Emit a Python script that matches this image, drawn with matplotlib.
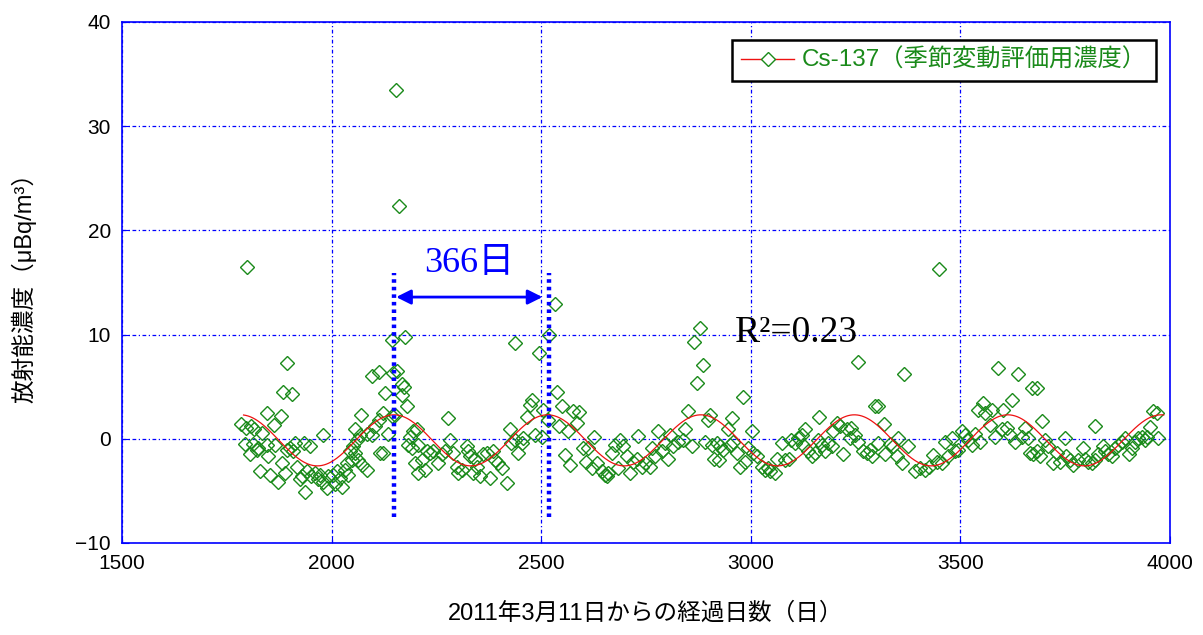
import numpy as np
import matplotlib
matplotlib.use("Agg")
import matplotlib.pyplot as plt
from matplotlib.lines import Line2D

# ---------------- data ----------------
days = [
    1798, 2154, 2161, 3449, 2533,
    # ~1780-2150
    1893, 1885, 1905, 1847, 1879, 1785, 1808, 1816, 1797, 1833, 1863, 1793, 1813, 1825, 1805,
    1821, 1845, 1865, 1849, 1829, 1853, 1871, 1881, 1889, 1893, 1901, 1913, 1909, 1933, 1949,
    1980, 1917, 1925, 1937, 1929, 1941, 1952, 1960, 1968, 1972, 1980, 1988, 1992, 2004, 2012,
    2008, 2024, 2020, 2032, 2040, 2036, 2048, 2044, 2056, 2064, 2072, 2084, 2052, 2060, 2068,
    2056, 2070, 2084, 2096, 2104, 2112, 2123, 2127, 2096, 2112, 2115, 2123, 2135, 2143, 2143,
    2147,
    # 2150-2520
    2175, 2437, 2495, 2518, 2155, 2167, 2173, 2167, 2181, 2277, 2151, 2477, 2473, 2465, 2505,
    2517, 2426, 2457, 2485, 2501, 2195, 2203, 2187, 2183, 2207, 2191, 2227, 2235, 2243, 2255,
    2263, 2270, 2282, 2290, 2298, 2302, 2310, 2322, 2326, 2330, 2342, 2346, 2338, 2354, 2362,
    2370, 2378, 2386, 2390, 2398, 2406, 2418, 2429, 2445, 2437, 2453, 2199, 2207, 2223, 2215,
    # 2530-2910
    2879, 2865, 2885, 2871, 2849, 2903, 2897, 2537, 2549, 2577, 2590, 2585, 2542, 2565, 2627,
    2557, 2569, 2600, 2612, 2608, 2620, 2632, 2644, 2652, 2656, 2660, 2668, 2676, 2688, 2696,
    2684, 2704, 2712, 2720, 2730, 2728, 2740, 2748, 2760, 2764, 2771, 2779, 2787, 2795, 2803,
    2807, 2815, 2827, 2839, 2843, 2859, 2891, 2911, 2907,
    # 2915-3290
    3255, 2982, 3296, 3163, 2954, 2946, 3002, 2919, 2927, 2934, 2923, 2950, 2958, 2966, 2974,
    2986, 2994, 3006, 3014, 3026, 3034, 3042, 3046, 3058, 3062, 3074, 3082, 3090, 3097, 3105,
    3113, 3121, 3129, 3125, 3137, 3145, 3153, 3161, 3169, 3177, 3185, 3193, 3197, 3205, 3213,
    3221, 3229, 3240, 3236, 3248, 3256, 3268, 3276, 3284, 3288,
    # 3300-3675
    3366, 3590, 3638, 3670, 3304, 3318, 3624, 3602, 3575, 3555, 3543, 3559, 3571, 3304, 3332,
    3352, 3340, 3320, 3348, 3360, 3376, 3392, 3404, 3416, 3424, 3435, 3443, 3455, 3463, 3471,
    3479, 3487, 3495, 3503, 3511, 3519, 3527, 3535, 3547, 3582, 3598, 3610, 3618, 3630, 3646,
    3654, 3662, 3666, 3674,
    # 3680-3975
    3682, 3695, 3821, 3960, 3968, 3952, 3682, 3690, 3702, 3710, 3722, 3730, 3738, 3750, 3753,
    3761, 3769, 3781, 3793, 3797, 3805, 3813, 3821, 3829, 3841, 3845, 3853, 3861, 3869, 3877,
    3885, 3893, 3901, 3909, 3917, 3924, 3932, 3940, 3944, 3972,
]
concentration = [
    16.5, 33.5, 22.3, 16.3, 12.9,
    7.3, 4.5, 4.3, 2.5, 2.2, 1.4, 1.2, 0.9, 1.0, 0.6, 1.3, -0.5, -0.5, -0.9, -1.5,
    -1.1, -0.6, -0.6, -1.7, -3.1, -3.5, -4.1, -2.3, -3.3, -1.1, -0.9, -0.4, -1.2, -0.4, -0.7,
    0.4, -2.7, -3.9, -5.1, -3.6, -3.1, -3.6, -3.3, -3.9, -3.5, -4.1, -4.7, -3.6, -3.5, -3.1,
    -4.3, -4.6, -3.8, -3.0, -3.5, -2.3, -2.0, -1.2, -1.4, -2.0, -2.5, -3.0, -0.7, -0.1, 0.4,
    0.9, 2.3, 0.5, 0.4, 1.2, 1.8, 2.5, 4.4, 6.0, 6.4, -1.4, -1.4, 0.5, 2.2, 9.5,
    6.3,
    9.8, 9.2, 8.2, 10.0, 6.5, 5.3, 5.0, 4.2, 3.1, 2.0, 2.3, 3.7, 3.2, 2.1, 2.8,
    1.8, 0.9, 0.1, 0.4, 0.2, 0.7, 0.9, 0.2, -0.6, -0.6, -0.9, -1.2, -1.4, -1.2, -2.3,
    -1.5, -1.2, -0.1, -1.4, -2.7, -3.3, -3.0, -0.7, -1.2, -1.7, -1.9, -2.7, -3.3, -3.6, -1.5,
    -1.4, -3.8, -1.2, -2.0, -2.3, -2.8, -4.2, -0.4, -1.4, -0.1, -0.4, -2.3, -3.3, -3.0, -2.0,
    10.6, 9.3, 7.1, 5.4, 2.7, 2.3, 1.8, 4.5, 3.1, 2.7, 2.6, 1.5, 1.2, 0.7, 0.2,
    -1.6, -2.5, -0.9, -0.9, -2.2, -2.8, -2.3, -3.1, -3.5, -3.6, -3.3, -1.4, -0.6, -0.1, -0.7,
    -2.8, -1.7, -3.3, -2.2, 0.3, -1.9, -2.7, -2.3, -2.7, -0.9, -1.7, 0.7, -1.2, -0.4, -1.9,
    0.4, -0.7, -0.3, -0.1, 0.9, -0.7, -0.3, -1.9, -0.6,
    7.4, 4.0, 3.1, 2.1, 2.0, 0.9, 0.7, -0.4, -0.7, -1.1, -2.0, -0.6, -0.3, -1.4, -2.7,
    -2.2, -0.9, -1.4, -1.7, -2.7, -3.0, -2.8, -3.1, -3.3, -1.9, -0.4, -2.0, -1.9, -0.1, -0.4,
    0.1, 0.4, 0.9, -0.6, -1.2, -1.7, -1.4, -0.1, -0.6, -1.2, -0.4, -0.7, 0.7, 1.5, 1.2,
    -1.5, 0.9, 1.0, 0.1, 0.4, -0.3, -1.2, -1.4, -1.1, -1.7,
    6.2, 6.8, 6.2, 4.9, 3.1, 1.4, 3.7, 2.8, 2.8, 3.4, 2.8, 2.5, 1.3, -0.4, -0.5,
    0.1, -0.7, -1.5, -1.7, -2.3, -0.7, -3.1, -2.8, -3.0, -2.7, -1.6, -2.2, -2.3, -0.3, -1.7,
    0.1, -1.2, -1.1, 0.7, 0.4, -0.1, -0.6, 0.5, -0.3, 0.2, 0.9, 1.0, 0.4, -0.3, 0.2,
    1.0, 0.1, -1.4, -1.5,
    4.9, 1.7, 1.2, 2.7, 2.5, 1.1, -1.2, -1.7, -0.1, -0.7, -2.3, -1.4, -2.2, 0.1, -1.7,
    -2.0, -2.5, -2.0, -0.9, -1.9, -2.2, -2.3, -2.0, -1.5, -0.7, -1.2, -1.5, -1.7, -0.9, -0.6,
    -0.3, 0.1, -1.5, -0.9, -0.3, 0.1, 0.2, -0.1, 0.2, 0.1,
]

# seasonal (annual) fit parameters
fit_offset = -0.15
fit_amplitude = 2.45
fit_period = 366
fit_peak_day = 2149
fit_start = 1790
fit_end = 3985

# annotation values
period_lines = [2149, 2519]
period_line_range = [-7.5, 15.9]
arrow_range = [2154, 2503]
arrow_level = 13.6
period_label = "366日"
r2_label = "R²=0.23"

x_ticks = [1500, 2000, 2500, 3000, 3500, 4000]
y_ticks = [-10, 0, 10, 20, 30, 40]

# ---------------- plot ----------------
SANS = ['Liberation Sans', 'Noto Sans CJK JP']
SERIF = ['Liberation Serif', 'Noto Sans CJK JP']
plt.rcParams['font.family'] = SANS

fig = plt.figure(figsize=(12.03, 6.35), dpi=100)
ax = fig.add_axes([0.1014, 0.1449, 0.8712, 0.8205])

green = '#1a8a1a'
blue = '#0000ff'

fit_days = np.linspace(fit_start, fit_end, 800)
fit_vals = fit_offset + fit_amplitude * np.cos(2 * np.pi * (fit_days - fit_peak_day) / fit_period)

ax.plot(days, concentration, linestyle='none', marker='D', markersize=7,
        markerfacecolor='none', markeredgecolor=green, markeredgewidth=1.0, zorder=3)
ax.plot(fit_days, fit_vals, color='#ee1111', linewidth=0.9, zorder=4)

# legend proxy
proxy = Line2D([], [], color='#ee1111', linewidth=1.0, marker='D', markersize=7,
               markerfacecolor='white', markeredgecolor=green)
leg = ax.legend([proxy], ['Cs-137（季節変動評価用濃度）'], loc='upper right',
                bbox_to_anchor=(0.9865, 0.966), fancybox=False, framealpha=1,
                edgecolor='black', fontsize=17.5, handlelength=2.2, borderpad=0.38,
                handletextpad=0.3, borderaxespad=0)
leg.get_frame().set_linewidth(1.8)
for t in leg.get_texts():
    t.set_color(green)

# period markers
for xv in period_lines:
    ax.plot([xv, xv], period_line_range, color=blue, linewidth=3.2,
            linestyle=(0, (0.8, 0.9)), zorder=5)
ax.annotate('', xy=(arrow_range[1], arrow_level), xytext=(arrow_range[0], arrow_level),
            arrowprops=dict(arrowstyle='<|-|>', color=blue, lw=2, mutation_scale=22,
                            shrinkA=0, shrinkB=0), zorder=6)
ax.text(2328, 16.8, period_label, color=blue, fontsize=26, family=SERIF,
        ha='center', va='center')
ax.text(2962, 10.2, r2_label, color='black', fontsize=27, family=SERIF,
        ha='left', va='center')

ax.set_xlim(1500, 4000)
ax.set_ylim(-10, 40)
ax.set_xticks(x_ticks)
ax.set_yticks(y_ticks)
ax.tick_params(direction='in', length=5, color=blue, labelsize=15, pad=8)
ax.grid(True, color=blue, linestyle=(0, (3, 2, 1, 2)), linewidth=0.9)
for s in ax.spines.values():
    s.set_color(blue)
    s.set_linewidth(1.2)

ax.set_ylabel('放射能濃度（μBq/m³）', fontsize=17, labelpad=28)
ax.set_xlabel('2011年3月11日からの経過日数（日）', fontsize=17, labelpad=21)

fig.savefig('out.png', dpi=100)
